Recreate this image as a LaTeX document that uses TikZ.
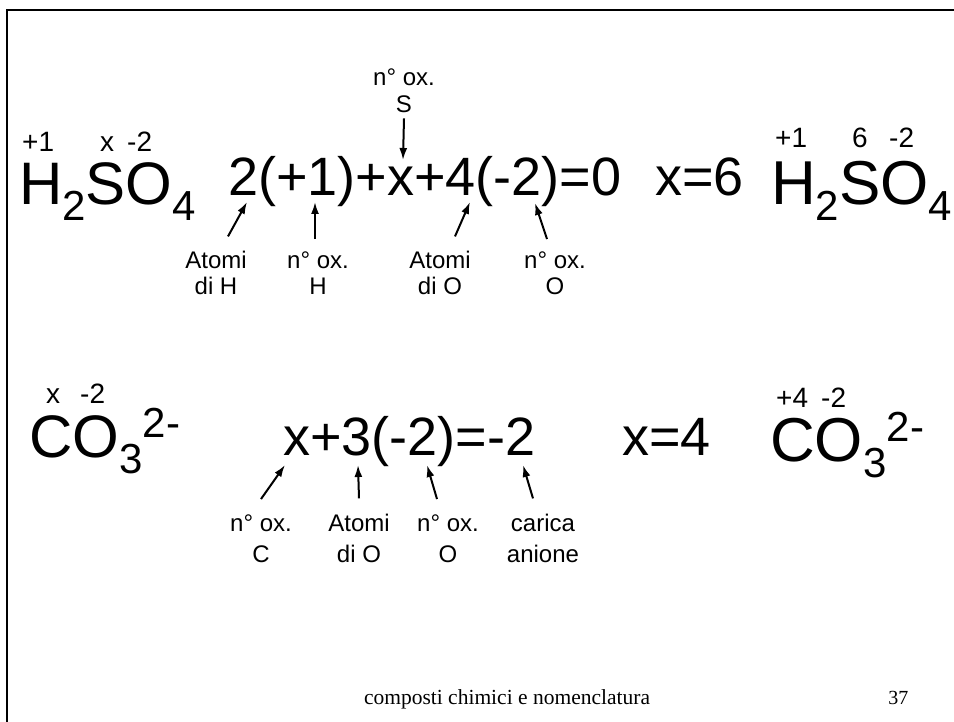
\documentclass[tikz,border=0pt]{standalone}
\usepackage{fontspec}
\setmainfont{Liberation Sans}
\newfontfamily\footfont{Liberation Serif}
\usetikzlibrary{arrows.meta}

% subscripts of the formulas
\newcommand{\sbs}[1]{\raisebox{-16pt}{\fontsize{42}{42}\selectfont #1}}

\begin{document}
\begin{tikzpicture}[x=1pt,y=-1pt,
    big/.style={font=\fontsize{60}{60}\selectfont, inner sep=0pt, anchor=base west},
    bigR/.style={big, font=\fontsize{62}{62}\selectfont},
    eqn/.style={big, font=\fontsize{54}{54}\selectfont},
    chg/.style={font=\fontsize{42}{42}\selectfont, inner sep=0pt, anchor=base west, yshift=20pt},
    ox/.style={font=\fontsize{28}{28}\selectfont, inner sep=0pt, anchor=base west},
    lab/.style={font=\fontsize{24}{27}\selectfont, align=center, inner sep=0pt, anchor=base},
    labb/.style={lab, font=\fontsize{24}{31}\selectfont},
    ptr/.style={line width=2pt, -{Latex[length=12pt,width=8pt]}}]
        \useasboundingbox (0,0) rectangle (954,722);

        % Draw slide frame
        \draw[line width=2.5pt] (7,722) -- (7,10) -- (954,10);

        % First row: sulfuric acid
        \node[big] (acid) at (19,205) {H\sbs{2}SO\sbs{4}};
        \node[ox] (oxH) at (22,152) {+1};
        \node[ox] (oxS) at (100,152) {x};
        \node[ox] (oxO) at (127,152) {-2};

        \node[eqn] (eqA) at (228,196) {2(+1)+x+4(-2)=0};
        \node[eqn] (solA) at (655,196) {x=6};

        \node[bigR] (acidR) at (771,205) {H\sbs{2}SO\sbs{4}};
        \node[ox] (oxHR) at (775,148) {+1};
        \node[ox] (oxSR) at (852,148) {6};
        \node[ox] (oxOR) at (889,148) {-2};

        % Labels of the first equation
        \node[lab] (lS) at (404,113) {n° ox.\\S};
        \node[lab] (lH) at (216,295) {Atomi\\di H};
        \node[lab] (lHox) at (318,295) {n° ox.\\H};
        \node[lab] (lO) at (440,295) {Atomi\\di O};
        \node[lab] (lOox) at (555,295) {n° ox.\\O};

        \coordinate (tS) at (403,160);
        \coordinate (tH) at (247,202);
        \coordinate (tHox) at (315,202);
        \coordinate (tO) at (470,202);
        \coordinate (tOox) at (535,203);

        \draw[ptr] ([yshift=-5pt]lS.south) -- (tS);
        \draw[ptr] ([xshift=12pt,yshift=14pt]lH.north) -- (tH);
        \draw[ptr] ([xshift=-3pt,yshift=12pt]lHox.north) -- (tHox);
        \draw[ptr] ([xshift=15pt,yshift=14pt]lO.north) -- (tO);
        \draw[ptr] ([xshift=-8pt,yshift=12pt]lOox.north) -- (tOox);

        % Second row: carbonate anion
        \node[big] (anion) at (29,457) {CO\sbs{3}};
        \node[chg] (qL) at (anion.base east) {2-};
        \node[ox] (oxC) at (46,403) {x};
        \node[ox] (oxOc) at (80,403) {-2};

        \node[eqn] (eqB) at (283,455) {x+3(-2)=-2};
        \node[eqn] (solB) at (622,455) {x=4};

        \node[bigR] (anionR) at (770,461) {CO\sbs{3}};
        \node[chg] (qR) at (anionR.base east) {2-};
        \node[ox] (oxCR) at (776,407) {+4};
        \node[ox] (oxOcR) at (821,407) {-2};

        % Labels of the second equation
        \node[labb] (lC) at (261,562) {n° ox.\\C};
        \node[labb] (lOc) at (359,562) {Atomi\\di O};
        \node[labb] (lOcox) at (448,562) {n° ox.\\O};
        \node[labb] (lq) at (543,562) {carica\\anione};

        \coordinate (tC) at (285,465);
        \coordinate (tOc) at (358,465);
        \coordinate (tOcox) at (427,465);
        \coordinate (tq) at (523,465);

        \draw[ptr] ([yshift=15pt]lC.north) -- (tC);
        \draw[ptr] ([yshift=15pt]lOc.north) -- (tOc);
        \draw[ptr] ([xshift=-11pt,yshift=15pt]lOcox.north) -- (tOcox);
        \draw[ptr] ([xshift=-10pt,yshift=15pt]lq.north) -- (tq);

        % Footer
        \node[font=\footfont\fontsize{21.5}{21.5}\selectfont, anchor=base] (foot) at (507,704) {composti chimici e nomenclatura};
        \node[font=\footfont\fontsize{20}{20}\selectfont, anchor=base east] (page) at (912,704) {37};
    \end{tikzpicture}
\end{document}
